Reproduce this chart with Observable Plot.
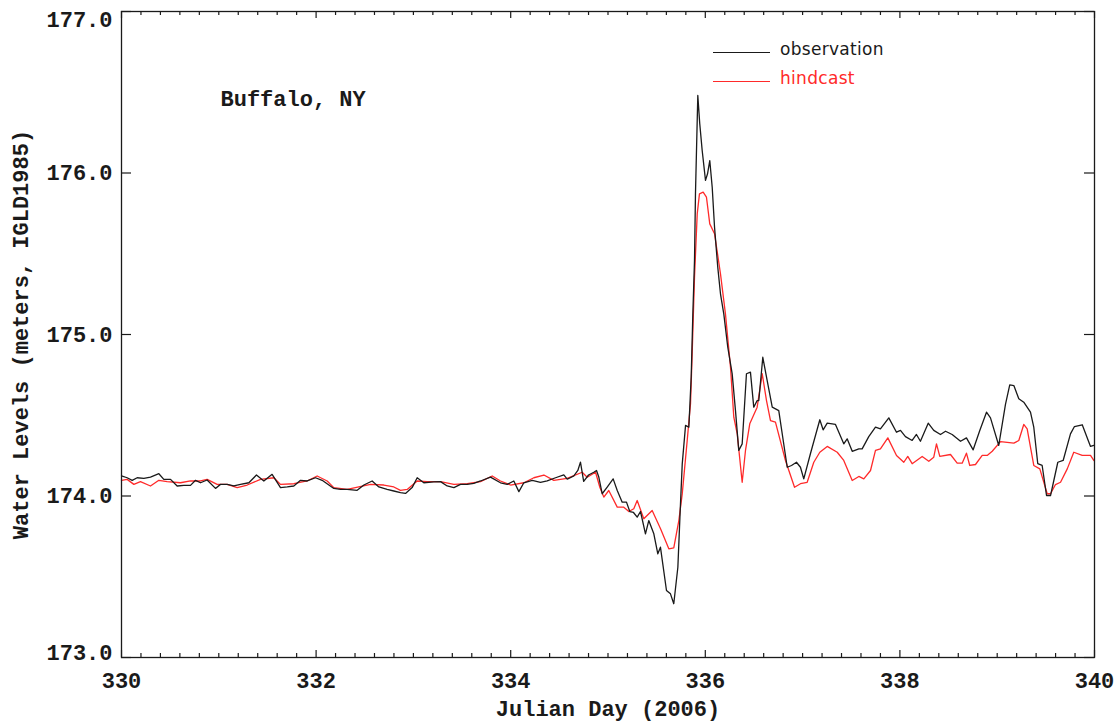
<!DOCTYPE html>
<html>
<head>
<meta charset="utf-8">
<script src="https://cdn.jsdelivr.net/npm/d3@7"></script>
<script src="https://cdn.jsdelivr.net/npm/@observablehq/plot@0.6"></script>
<style>
  html, body { margin: 0; padding: 0; background: #fff; }
  #wrap { position: relative; width: 1119px; height: 723px; }
  #legend { position: absolute; left: 0; top: 0; font-family: "DejaVu Sans", sans-serif; font-size: 17px; }
  .lg-line { position: absolute; height: 0; width: 57px; left: 713px; }
  .lg-text { position: absolute; left: 780px; line-height: 20px; white-space: nowrap; letter-spacing: 0.3px; }
</style>
</head>
<body>
<div id="wrap">
  <div id="chart"></div>
  <div id="legend">
    <div class="lg-line" style="top:52px;border-top:1.3px solid #1a1a1a;"></div>
    <div class="lg-text" style="top:39px;color:#1a1a1a;">observation</div>
    <div class="lg-line" style="top:81px;border-top:1.3px solid #ff2a2a;"></div>
    <div class="lg-text" style="top:68px;color:#ff2a2a;">hindcast</div>
  </div>
</div>
<script>
// ---------- data ----------
const obsDay = [330.000,330.058,330.110,330.161,330.230,330.298,330.384,330.435,330.504,330.572,330.641,330.709,330.761,330.812,330.880,330.966,331.017,331.086,331.155,331.223,331.309,331.387,331.463,331.548,331.634,331.703,331.771,331.840,331.908,331.994,332.062,332.182,332.251,332.319,332.422,332.491,332.576,332.645,332.730,332.799,332.867,332.919,332.987,333.039,333.107,333.210,333.279,333.347,333.416,333.484,333.553,333.621,333.690,333.792,333.895,333.964,334.032,334.084,334.135,334.221,334.306,334.375,334.461,334.546,334.581,334.649,334.690,334.717,334.750,334.800,334.854,334.882,334.906,334.940,334.990,335.053,335.095,335.146,335.190,335.224,335.262,335.300,335.334,335.385,335.419,335.471,335.512,335.539,335.601,335.642,335.676,335.718,335.745,335.763,335.797,335.831,335.855,335.872,335.889,335.899,335.923,335.943,335.968,336.002,336.023,336.046,336.071,336.095,336.128,336.156,336.190,336.231,336.276,336.310,336.344,336.379,336.423,336.464,336.498,336.533,336.550,336.591,336.636,336.688,336.755,336.842,336.886,336.937,336.978,337.012,337.081,337.177,337.211,337.253,337.338,337.423,337.458,337.510,337.578,337.612,337.680,337.749,337.800,337.886,337.965,338.006,338.057,338.126,338.170,338.211,338.291,338.348,338.417,338.469,338.537,338.623,338.684,338.753,338.821,338.890,338.931,339.016,339.085,339.129,339.171,339.222,339.273,339.342,339.376,339.417,339.462,339.507,339.548,339.582,339.623,339.678,339.753,339.794,339.874,339.959,339.993];
const obsLevel = [174.124,174.113,174.097,174.113,174.109,174.117,174.138,174.103,174.103,174.062,174.066,174.066,174.097,174.082,174.099,174.047,174.072,174.072,174.062,174.072,174.082,174.130,174.093,174.134,174.052,174.056,174.062,174.097,174.093,174.113,174.097,174.047,174.041,174.041,174.035,174.068,174.093,174.056,174.041,174.031,174.021,174.016,174.052,174.113,174.082,174.087,174.089,174.062,174.052,174.072,174.072,174.078,174.093,174.117,174.082,174.072,174.093,174.027,174.082,174.097,174.084,174.093,174.113,174.131,174.104,174.125,174.158,174.210,174.090,174.130,174.147,174.158,174.116,174.014,174.054,174.106,174.034,173.962,173.962,173.904,173.898,173.869,173.904,173.766,173.848,173.766,173.642,173.683,173.415,173.394,173.333,173.559,173.952,174.199,174.437,174.426,174.736,175.128,175.458,175.871,176.480,176.305,176.139,175.954,175.995,176.077,175.912,175.664,175.417,175.252,175.128,174.921,174.758,174.530,174.282,174.323,174.757,174.767,174.550,174.591,174.591,174.859,174.715,174.550,174.529,174.178,174.189,174.209,174.178,174.106,174.263,174.472,174.410,174.451,174.443,174.323,174.354,174.277,174.292,174.292,174.368,174.426,174.416,174.484,174.395,174.406,174.368,174.344,174.381,174.339,174.451,174.406,174.381,174.401,174.381,174.339,174.360,174.286,174.406,174.519,174.484,174.313,174.567,174.688,174.684,174.602,174.581,174.519,174.426,174.200,174.189,174.003,174.003,174.096,174.209,174.220,174.385,174.430,174.441,174.307,174.313];

const hindDay = [330.000,330.058,330.127,330.195,330.298,330.384,330.469,330.606,330.709,330.812,330.880,330.983,331.086,331.189,331.292,331.429,331.566,331.634,331.771,331.908,332.011,332.114,332.182,332.319,332.439,332.559,332.696,332.799,332.867,332.936,333.039,333.141,333.279,333.416,333.553,333.690,333.810,333.895,333.998,334.135,334.238,334.341,334.443,334.580,334.735,334.786,334.872,334.916,334.957,335.008,335.095,335.162,335.214,335.265,335.300,335.368,335.454,335.540,335.625,335.676,335.728,335.763,335.814,335.848,335.865,335.889,335.917,335.940,335.978,336.012,336.046,336.095,336.156,336.207,336.259,336.293,336.328,336.379,336.413,336.457,336.533,336.585,336.629,336.670,336.721,336.824,336.917,336.978,337.047,337.115,337.177,337.253,337.356,337.423,337.510,337.578,337.629,337.698,337.749,337.800,337.876,337.965,338.040,338.081,338.126,338.229,338.297,338.348,338.376,338.410,338.520,338.589,338.640,338.684,338.718,338.777,338.846,338.897,338.949,339.034,339.171,339.222,339.273,339.308,339.376,339.438,339.514,339.548,339.599,339.651,339.720,339.787,339.874,339.959,339.993];
const hindLevel = [174.097,174.103,174.072,174.089,174.062,174.097,174.089,174.082,174.093,174.093,174.103,174.072,174.072,174.052,174.068,174.103,174.113,174.072,174.076,174.093,174.124,174.093,174.052,174.041,174.056,174.072,174.068,174.056,174.035,174.041,174.093,174.089,174.089,174.072,174.076,174.089,174.124,174.093,174.068,174.082,174.113,174.130,174.097,174.109,174.147,174.116,174.147,174.054,173.993,174.034,173.931,173.931,173.904,173.921,173.972,173.859,173.910,173.797,173.673,173.679,173.848,174.013,174.344,174.571,174.880,175.355,175.747,175.871,175.881,175.850,175.685,175.624,175.376,175.128,174.798,174.488,174.385,174.085,174.282,174.447,174.550,174.757,174.591,174.467,174.457,174.220,174.054,174.076,174.085,174.209,174.271,174.307,174.271,174.220,174.096,174.121,174.106,174.158,174.282,174.292,174.360,174.251,174.209,174.245,174.200,174.245,174.215,174.240,174.323,174.245,174.257,174.203,174.203,174.265,174.189,174.195,174.251,174.251,174.277,174.337,174.327,174.344,174.443,174.416,174.189,174.168,174.014,174.014,174.071,174.085,174.168,174.271,174.251,174.251,174.220];

const xMajorTicks = [330, 332, 334, 336, 338, 340];
const xMinorTicks = d3.range(0, 51).map(i => 330 + i * 0.2).filter(v => Math.abs(v - Math.round(v / 2) * 2) > 1e-6);
const yTicks = [173, 174, 175, 176, 177];
const yLabelsMid = [174, 175, 176];

const stationName = "Buffalo, NY";
const xTitle = "Julian Day (2006)";
const yTitle = "Water Levels (meters, IGLD1985)";

// ---------- build ----------
const obs = obsDay.map((d, i) => ({day: d, level: obsLevel[i]}));
const hind = hindDay.map((d, i) => ({day: d, level: hindLevel[i]}));

const W = 1119, H = 723;
const mL = 121, mR = 25, mT = 11, mB = 66;
const frameW = W - mL - mR, frameH = H - mT - mB;
const font = "'Liberation Mono', 'DejaVu Sans Mono', monospace";
const ink = "#1a1a1a";

const chart = Plot.plot({
  width: W, height: H,
  marginLeft: mL, marginRight: mR, marginTop: mT, marginBottom: mB,
  style: {background: "#fff", color: ink},
  x: {domain: [330, 340]},
  y: {domain: [173, 177]},
  marks: [
    // data
    Plot.line(hind, {x: "day", y: "level", stroke: "#ff2a2a", strokeWidth: 1.3}),
    Plot.line(obs, {x: "day", y: "level", stroke: "#1a1a1a", strokeWidth: 1.3}),
    // frame
    Plot.frame({stroke: ink, strokeWidth: 1.3}),
    // inward ticks, x (bottom & top)
    Plot.ruleX(xMinorTicks, {x: d => d, insetTop: frameH - 4, stroke: ink, strokeWidth: 1.2}),
    Plot.ruleX(xMinorTicks, {x: d => d, insetBottom: frameH - 4, stroke: ink, strokeWidth: 1.2}),
    Plot.ruleX(xMajorTicks, {x: d => d, insetTop: frameH - 7, stroke: ink, strokeWidth: 1.2}),
    Plot.ruleX(xMajorTicks, {x: d => d, insetBottom: frameH - 7, stroke: ink, strokeWidth: 1.2}),
    // inward ticks, y (left & right)
    Plot.ruleY(yTicks, {y: d => d, insetRight: frameW - 10, stroke: ink, strokeWidth: 1.2}),
    Plot.ruleY(yTicks, {y: d => d, insetLeft: frameW - 10, stroke: ink, strokeWidth: 1.2}),
    // x tick labels
    Plot.axisX({ticks: xMajorTicks, tickSize: 0, tickPadding: 15, tickFormat: d => String(d),
      fontFamily: font, fontSize: 22, fontWeight: "bold", fill: ink, label: null}),
    // y tick labels (IDL nudges the end labels inward)
    Plot.axisY({ticks: yLabelsMid, tickSize: 0, tickPadding: 9, tickFormat: d => d.toFixed(1),
      fontFamily: font, fontSize: 22, fontWeight: "bold", fill: ink, label: null}),
    Plot.axisY({ticks: [177], tickSize: 0, tickPadding: 9, dy: 8, tickFormat: d => d.toFixed(1),
      fontFamily: font, fontSize: 22, fontWeight: "bold", fill: ink, label: null}),
    Plot.axisY({ticks: [173], tickSize: 0, tickPadding: 9, dy: -5, tickFormat: d => d.toFixed(1),
      fontFamily: font, fontSize: 22, fontWeight: "bold", fill: ink, label: null}),
    // axis titles
    Plot.text([xTitle], {text: d => d, frameAnchor: "bottom", dy: 51, lineAnchor: "middle",
      fontFamily: font, fontSize: 22, fontWeight: "bold", fill: ink}),
    Plot.text([yTitle], {text: d => d, frameAnchor: "left", dx: -101, rotate: -90,
      textAnchor: "middle", lineAnchor: "middle",
      fontFamily: font, fontSize: 22, fontWeight: "bold", fill: ink}),
    // station annotation
    Plot.text([stationName], {text: d => d, frameAnchor: "top-left", textAnchor: "start", dx: 99, dy: 87,
      lineAnchor: "middle", fontFamily: font, fontSize: 22, fontWeight: "bold", fill: ink})
  ]
});
document.getElementById("chart").appendChild(chart);
</script>
</body>
</html>
